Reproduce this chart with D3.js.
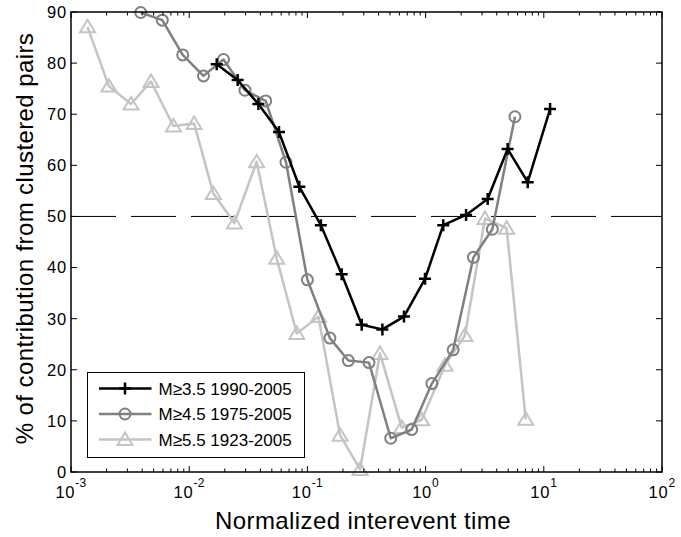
<!doctype html>
<html lang="en">
  <head>
    <meta charset="UTF-8" />
    <title>Clustered pairs vs normalized interevent time</title>
    <script src="https://d3js.org/d3.v7.min.js"></script>
    <style>
      body {
        margin: 0;
        padding: 0;
        background: #fff;
        font-family: 'Liberation Sans', Arial, sans-serif;
      }
      .tick-label {
        font-size: 16.5px;
        letter-spacing: 0.8px;
        fill: #000;
      }
      .axis-title {
        font-size: 24px;
        letter-spacing: 0.4px;
        fill: #000;
      }
      .legend-text {
        font-size: 17px;
        fill: #000;
      }
    </style>
  </head>
  <body>
    <div id="chart"></div>
    <script>
      // M>=3.5, 1990-2005
      const x35 = [0.0171, 0.0257, 0.0385, 0.0575, 0.0855, 0.13, 0.195, 0.288, 0.431, 0.656, 0.989, 1.41, 2.2, 3.35, 4.94, 7.31, 11.3]
      const y35 = [79.8, 76.7, 72.0, 66.5, 55.8, 48.3, 38.7, 28.8, 27.9, 30.4, 37.8, 48.3, 50.3, 53.4, 63.2, 56.7, 71.0]

      // M>=4.5, 1975-2005
      const x45 = [0.00389, 0.00592, 0.00881, 0.0132, 0.0195, 0.0296, 0.0444, 0.0659, 0.1, 0.155, 0.222, 0.332, 0.507, 0.762, 1.13, 1.71, 2.54, 3.67, 5.7]
      const y45 = [89.9, 88.4, 81.6, 77.5, 80.7, 74.7, 72.6, 60.6, 37.6, 26.2, 21.8, 21.4, 6.6, 8.3, 17.3, 23.9, 42.0, 47.5, 69.5]

      // M>=5.5, 1923-2005
      const x55 = [0.00138, 0.00209, 0.00322, 0.00475, 0.00735, 0.011, 0.016, 0.0241, 0.0372, 0.055, 0.0813, 0.124, 0.189, 0.279, 0.411, 0.628, 0.927, 1.46, 2.15, 3.18, 4.85, 7.03]
      const y55 = [87.1, 75.5, 72.0, 76.4, 67.7, 68.2, 54.5, 48.7, 60.7, 41.8, 27.1, 30.4, 7.2, 0.5, 23.2, 8.7, 10.2, 20.9, 26.7, 49.6, 47.7, 10.3]

      const seriesNames = ['M\u22653.5 1990-2005', 'M\u22654.5 1975-2005', 'M\u22655.5 1923-2005']
      const xTickExps = [-3, -2, -1, 0, 1, 2]
      const yTicks = [0, 10, 20, 30, 40, 50, 60, 70, 80, 90]
      const refLevel = 50

      const W = 681
      const H = 537
      const margin = { top: 12, right: 19, bottom: 65, left: 71 }
      const width = W - margin.left - margin.right
      const height = H - margin.top - margin.bottom

      const svg = d3
        .select('#chart')
        .append('svg')
        .attr('width', W)
        .attr('height', H)

      const g = svg.append('g').attr('transform', `translate(${margin.left},${margin.top})`)

      const x = d3.scaleLog().domain([1e-3, 1e2]).range([0, width])
      const y = d3.scaleLinear().domain([0, 90]).range([height, 0])

      // minor ticks for log axis
      const minor = []
      xTickExps.slice(0, -1).forEach((e) => {
        for (let k = 2; k <= 9; k++) minor.push(k * Math.pow(10, e))
      })
      const major = xTickExps.map((e) => Math.pow(10, e))

      // reference dashed line at 50%
      g.append('line')
        .attr('x1', 0)
        .attr('x2', width)
        .attr('y1', y(refLevel))
        .attr('y2', y(refLevel))
        .attr('stroke', '#000')
        .attr('stroke-width', 1)
        .attr('stroke-dasharray', '45,15')

      // series
      const series = [
        { xs: x35, ys: y35, color: '#000000', marker: 'plus' },
        { xs: x45, ys: y45, color: '#808080', marker: 'circle' },
        { xs: x55, ys: y55, color: '#c4c4c4', marker: 'triangle' },
      ]

      const line = d3
        .line()
        .x((d) => x(d[0]))
        .y((d) => y(d[1]))

      function drawMarker(sel, type, color) {
        if (type === 'plus') {
          sel.append('path')
            .attr('d', 'M-6,0H6M0,-6V6')
            .attr('stroke', color)
            .attr('stroke-width', 2.5)
            .attr('fill', 'none')
        } else if (type === 'circle') {
          sel.append('circle')
            .attr('r', 5.5)
            .attr('stroke', color)
            .attr('stroke-width', 2)
            .attr('fill', 'none')
        } else {
          sel.append('path')
            .attr('d', 'M0,-7L7.5,5.5L-7.5,5.5Z')
            .attr('stroke', color)
            .attr('stroke-width', 2)
            .attr('fill', 'none')
        }
      }

      // draw in reverse so black is on top
      series.slice().reverse().forEach((s) => {
        const pts = s.xs.map((v, i) => [v, s.ys[i]])
        g.append('path')
          .datum(pts)
          .attr('d', line)
          .attr('fill', 'none')
          .attr('stroke', s.color)
          .attr('stroke-width', 2.5)
          .attr('stroke-linejoin', 'round')
        g.selectAll(null)
          .data(pts)
          .join('g')
          .attr('transform', (d) => `translate(${x(d[0])},${y(d[1])})`)
          .each(function () {
            drawMarker(d3.select(this), s.marker, s.color)
          })
      })

      // frame
      g.append('rect')
        .attr('width', width)
        .attr('height', height)
        .attr('fill', 'none')
        .attr('stroke', '#000')
        .attr('stroke-width', 1.5)

      // ticks on all four sides, pointing inward
      const tickG = g.append('g').attr('stroke', '#000').attr('stroke-width', 1)
      major.forEach((v) => {
        tickG.append('line').attr('x1', x(v)).attr('x2', x(v)).attr('y1', height).attr('y2', height - 6)
        tickG.append('line').attr('x1', x(v)).attr('x2', x(v)).attr('y1', 0).attr('y2', 6)
      })
      minor.forEach((v) => {
        tickG.append('line').attr('x1', x(v)).attr('x2', x(v)).attr('y1', height).attr('y2', height - 3.5)
        tickG.append('line').attr('x1', x(v)).attr('x2', x(v)).attr('y1', 0).attr('y2', 3.5)
      })
      yTicks.forEach((v) => {
        tickG.append('line').attr('x1', 0).attr('x2', 6).attr('y1', y(v)).attr('y2', y(v))
        tickG.append('line').attr('x1', width).attr('x2', width - 6).attr('y1', y(v)).attr('y2', y(v))
      })

      // y tick labels
      g.selectAll('.ylab')
        .data(yTicks)
        .join('text')
        .attr('class', 'tick-label')
        .attr('x', -4)
        .attr('y', (d) => y(d))
        .attr('dy', '0.36em')
        .attr('text-anchor', 'end')
        .text((d) => d)

      // x tick labels 10^n
      xTickExps.forEach((e) => {
        const t = g.append('text')
          .attr('class', 'tick-label')
          .attr('x', x(Math.pow(10, e)))
          .attr('y', height + 26)
          .attr('text-anchor', 'middle')
        t.append('tspan').text('10')
        t.append('tspan').attr('dy', -11).style('font-size', '12px').style('letter-spacing', '0.3px').text(e)
      })

      // axis titles
      g.append('text')
        .attr('class', 'axis-title')
        .attr('x', 292)
        .attr('y', height + 57)
        .attr('text-anchor', 'middle')
        .text('Normalized interevent time')

      g.append('text')
        .attr('class', 'axis-title')
        .attr('transform', `translate(-38,226.5) rotate(-90)`)
        .attr('text-anchor', 'middle')
        .text('% of contribution from clustered pairs')

      // legend
      const legend = g.append('g').attr('transform', `translate(${87.5 - margin.left},${372.5 - margin.top})`)
      legend.append('rect')
        .attr('width', 217)
        .attr('height', 85)
        .attr('fill', '#fff')
        .attr('stroke', '#000')
        .attr('stroke-width', 1)

      series.forEach((s, i) => {
        const ly = 16 + i * 25.5
        legend.append('line')
          .attr('x1', 11.5)
          .attr('x2', 64)
          .attr('y1', ly)
          .attr('y2', ly)
          .attr('stroke', s.color)
          .attr('stroke-width', 2.5)
        const m = legend.append('g').attr('transform', `translate(37.5,${ly})`)
        drawMarker(m, s.marker, s.color)
        legend.append('text')
          .attr('class', 'legend-text')
          .attr('x', 71)
          .attr('y', ly)
          .attr('dy', '0.36em')
          .text(seriesNames[i])
      })
    </script>
  </body>
</html>
